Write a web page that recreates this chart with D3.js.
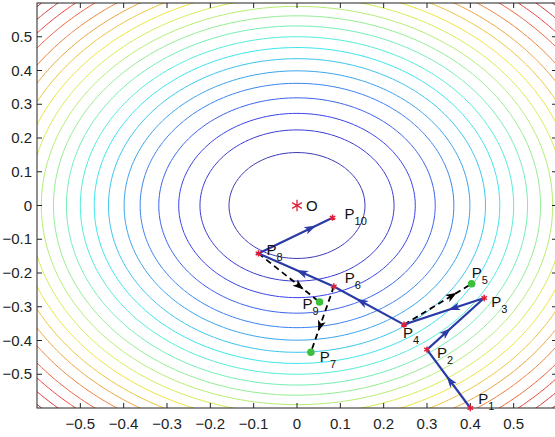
<!DOCTYPE html>
<html>
<head>
<meta charset="utf-8">
<script src="https://d3js.org/d3.v7.min.js"></script>
<style>
  body { margin: 0; background: #fff; }
  text { font-family: "Liberation Sans", Arial, sans-serif; }
</style>
</head>
<body>
<div id="my_dataviz"></div>
<script>
// ---- data ----
// contour radii of f(x,y) = x^2 + y^2 (levels are radius^2)
const contourRadii = [0.157, 0.224, 0.273, 0.319, 0.362, 0.399, 0.435, 0.468, 0.500, 0.532,
                      0.562, 0.590, 0.618, 0.646, 0.674, 0.701, 0.730, 0.760, 0.788, 0.815, 0.841];

// accepted steps (blue path)
const stepNames = ["P1", "P2", "P3", "P4", "P6", "P8", "P10"];
const stepX = [0.400, 0.300, 0.432, 0.247, 0.085, -0.089, 0.082];
const stepY = [-0.600, -0.427, -0.274, -0.353, -0.240, -0.142, -0.036];

// trial points (black dashed arrows, green dots)
const trialNames = ["P5", "P7", "P9"];
const trialFrom = ["P4", "P6", "P8"];
const trialX = [0.403, 0.032, 0.052];
const trialY = [-0.232, -0.435, -0.286];

const optimum = {name: "O", x: 0, y: 0};

const xTicks = [-0.5, -0.4, -0.3, -0.2, -0.1, 0, 0.1, 0.2, 0.3, 0.4, 0.5];
const yTicks = [-0.5, -0.4, -0.3, -0.2, -0.1, 0, 0.1, 0.2, 0.3, 0.4, 0.5];

// ---- styling ----
// label offsets in pixels from the point (left of "P", baseline)
const labelOffset = {
  P1: [8, -4], P2: [10, 8], P3: [7, 9], P4: [-1, 13], P5: [0, -6],
  P6: [11, -4], P7: [9, 10], P8: [8, 2], P9: [-17, 7], P10: [12, 1], O: [9, 5]
};
const blueArrowAt = [0.55, 0.42, 0.45, 0.68, 0.5, 0.78];
const dashArrowAt = [0.78, 0.68, 0.74];
const blue = "#2a3aa6";

// set the dimensions and margins of the graph
const margin = {top: 3, right: -2, bottom: 29, left: 37},
    width = 555 - margin.left - margin.right,
    height = 437 - margin.top - margin.bottom;

const svgRoot = d3.select("#my_dataviz")
  .append("svg")
    .attr("width", 555)
    .attr("height", 437);

const svg = svgRoot.append("g")
    .attr("transform", `translate(${margin.left},${margin.top})`);

const x = d3.scaleLinear().domain([-0.6, 0.6]).range([0, width]);
const y = d3.scaleLinear().domain([-0.6, 0.6]).range([height, 0]);

svgRoot.append("defs").append("clipPath").attr("id", "clip")
  .append("rect").attr("width", width).attr("height", height);

// jet colormap
function jet(t) {
  const c = v => Math.max(0, Math.min(1, v));
  return d3.rgb(255 * c(1.5 - Math.abs(4 * t - 3)),
                255 * c(1.5 - Math.abs(4 * t - 2)),
                255 * c(1.5 - Math.abs(4 * t - 1)));
}
// the lines in the picture look washed out
const lineColor = (i) => d3.interpolateRgb(jet((i + 1) / 22), "#c4c4c4")(0.3);

// contour grid
const g0 = -0.9, step = 0.01, n = 181;
const values = new Array(n * n);
for (let j = 0; j < n; ++j) {
  for (let i = 0; i < n; ++i) {
    const gx = g0 + i * step, gy = g0 + j * step;
    values[j * n + i] = gx * gx + gy * gy;
  }
}
const levels = contourRadii.map(r => r * r);
const contours = d3.contours().size([n, n]).thresholds(levels)(values);

const proj = d3.geoTransform({
  point: function(px, py) {
    this.stream.point(x(g0 + (px - 0.5) * step), y(g0 + (py - 0.5) * step));
  }
});
const path = d3.geoPath(proj);

svg.append("g")
    .attr("clip-path", "url(#clip)")
  .selectAll("path")
  .data(contours)
  .join("path")
    .attr("fill", "none")
    .attr("stroke", (d, i) => lineColor(i))
    .attr("stroke-width", 1)
    .attr("d", path);

// frame and ticks (inward, on all four sides)
svg.append("rect")
    .attr("x", 0).attr("y", 0)
    .attr("width", width).attr("height", height)
    .attr("fill", "none")
    .attr("stroke", "#222")
    .attr("stroke-width", 1);

const tickLen = 5;
const tickG = svg.append("g").attr("stroke", "#222").attr("stroke-width", 1);
xTicks.forEach(t => {
  tickG.append("line").attr("x1", x(t)).attr("x2", x(t)).attr("y1", height).attr("y2", height - tickLen);
  tickG.append("line").attr("x1", x(t)).attr("x2", x(t)).attr("y1", 0).attr("y2", tickLen);
});
yTicks.forEach(t => {
  tickG.append("line").attr("y1", y(t)).attr("y2", y(t)).attr("x1", 0).attr("x2", tickLen);
  tickG.append("line").attr("y1", y(t)).attr("y2", y(t)).attr("x1", width).attr("x2", width - tickLen);
});

svg.append("g").selectAll("text")
  .data(xTicks)
  .join("text")
    .attr("x", d => x(d))
    .attr("y", height + 21)
    .attr("text-anchor", "middle")
    .attr("font-size", 15)
    .attr("fill", "#222")
    .text(d => d3.format("")(d));

svg.append("g").selectAll("text")
  .data(yTicks)
  .join("text")
    .attr("x", -5)
    .attr("y", d => y(d) + 5)
    .attr("text-anchor", "end")
    .attr("font-size", 15)
    .attr("fill", "#222")
    .text(d => d3.format("")(d));

// arrowhead helper (pixel space)
function arrowHead(g, x1, y1, x2, y2, frac, len, wid, color) {
  const dx = x2 - x1, dy = y2 - y1, L = Math.hypot(dx, dy);
  const ux = dx / L, uy = dy / L;
  const tx = x1 + dx * frac, ty = y1 + dy * frac;
  const bx = tx - ux * len, by = ty - uy * len;
  const pts = [[tx, ty], [bx - uy * wid / 2, by + ux * wid / 2], [bx + ux * len * 0.25, by + uy * len * 0.25], [bx + uy * wid / 2, by - ux * wid / 2]];
  g.append("path").attr("d", "M" + pts.join("L") + "Z").attr("fill", color).attr("stroke", "none");
}

const pos = {};
stepNames.forEach((nm, i) => pos[nm] = [stepX[i], stepY[i]]);
trialNames.forEach((nm, i) => pos[nm] = [trialX[i], trialY[i]]);

// black dashed trial arrows
const dashG = svg.append("g");
trialNames.forEach((nm, i) => {
  const a = pos[trialFrom[i]], b = pos[nm];
  dashG.append("line")
    .attr("x1", x(a[0])).attr("y1", y(a[1]))
    .attr("x2", x(b[0])).attr("y2", y(b[1]))
    .attr("stroke", "#000").attr("stroke-width", 1.8)
    .attr("stroke-dasharray", "6,4");
  arrowHead(dashG, x(a[0]), y(a[1]), x(b[0]), y(b[1]), dashArrowAt[i], 11, 8, "#000");
});

// blue path
const line = d3.line().x(d => x(d[0])).y(d => y(d[1]));
const stepPts = stepX.map((v, i) => [v, stepY[i]]);
svg.append("path")
    .datum(stepPts)
    .attr("fill", "none")
    .attr("stroke", blue)
    .attr("stroke-width", 2.2)
    .attr("d", line);
const headG = svg.append("g");
for (let i = 0; i < stepPts.length - 1; ++i) {
  const a = stepPts[i], b = stepPts[i + 1];
  arrowHead(headG, x(a[0]), y(a[1]), x(b[0]), y(b[1]), blueArrowAt[i], 12, 8, blue);
}

// markers
const star = d3.symbol().type(d3.symbolAsterisk);
svg.append("g").selectAll("path")
  .data(stepPts)
  .join("path")
    .attr("transform", d => `translate(${x(d[0])},${y(d[1])})`)
    .attr("d", star.size(28)())
    .attr("fill", "none")
    .attr("stroke", "#e0203a")
    .attr("stroke-width", 1.5);

svg.append("g").selectAll("circle")
  .data(trialX)
  .join("circle")
    .attr("cx", d => x(d))
    .attr("cy", (d, i) => y(trialY[i]))
    .attr("r", 3.8)
    .attr("fill", "#3cc03c");

svg.append("path")
    .attr("transform", `translate(${x(optimum.x)},${y(optimum.y)})`)
    .attr("d", d3.symbol().type(d3.symbolAsterisk).size(90)())
    .attr("fill", "none")
    .attr("stroke", "#e0203a")
    .attr("stroke-width", 1.3);

// labels
const labelG = svg.append("g").attr("fill", "#111");
Object.keys(pos).forEach(nm => {
  const p = pos[nm], off = labelOffset[nm];
  const t = labelG.append("text")
    .attr("x", x(p[0]) + off[0])
    .attr("y", y(p[1]) + off[1])
    .attr("font-size", 15);
  t.append("tspan").text("P");
  t.append("tspan").attr("dy", 6).attr("font-size", 11).text(nm.slice(1));
});
labelG.append("text")
    .attr("x", x(optimum.x) + labelOffset.O[0])
    .attr("y", y(optimum.y) + labelOffset.O[1])
    .attr("font-size", 15)
    .text(optimum.name);
</script>
</body>
</html>
